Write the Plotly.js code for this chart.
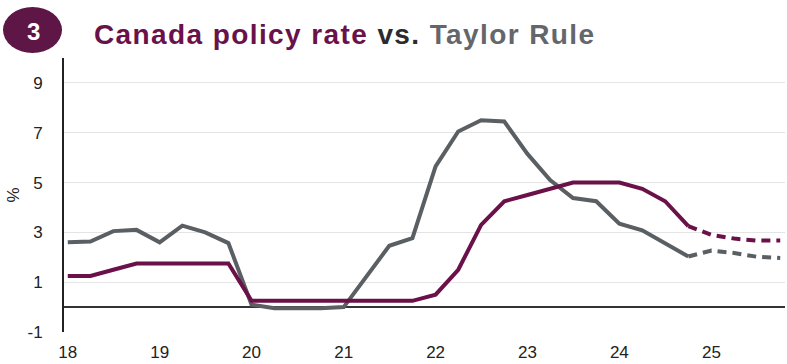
<!DOCTYPE html>
<html>
<head>
<meta charset="utf-8">
<script src="https://cdn.plot.ly/plotly-3.0.1.min.js"></script>
<style>
html,body{margin:0;padding:0;background:#fff;}
#chart{width:787px;height:364px;}
#chart .gtitle{letter-spacing:1.4px;}
</style>
</head>
<body>
<div id="chart"></div>
<script>
// Quarterly dates, actual history 2018Q1–2024Q4
const actualDates = [
  '2018-01-01','2018-04-01','2018-07-01','2018-10-01',
  '2019-01-01','2019-04-01','2019-07-01','2019-10-01',
  '2020-01-01','2020-04-01','2020-07-01','2020-10-01',
  '2021-01-01','2021-04-01','2021-07-01','2021-10-01',
  '2022-01-01','2022-04-01','2022-07-01','2022-10-01',
  '2023-01-01','2023-04-01','2023-07-01','2023-10-01',
  '2024-01-01','2024-04-01','2024-07-01','2024-10-01'
];
const forecastDates = ['2024-10-01','2025-01-01','2025-04-01','2025-07-01','2025-10-01'];

const policyRate = [1.25,1.25,1.5,1.75, 1.75,1.75,1.75,1.75, 0.25,0.25,0.25,0.25, 0.25,0.25,0.25,0.25,
                    0.5,1.5,3.3,4.25, 4.5,4.75,5.0,5.0, 5.0,4.75,4.25,3.25];
const policyForecast = [3.25,2.9,2.75,2.67,2.67];

const taylorRule = [2.6,2.63,3.05,3.1, 2.6,3.27,3.0,2.57, 0.1,-0.05,-0.05,-0.05, 0.0,1.23,2.46,2.77,
                    5.65,7.05,7.5,7.45, 6.15,5.1,4.38,4.25, 3.35,3.08,2.57,2.03];
const taylorForecast = [2.03,2.27,2.17,2.02,1.97];

const yearTicks = ['2018-01-01','2019-01-01','2020-01-01','2021-01-01','2022-01-01','2023-01-01','2024-01-01','2025-01-01'];
const yearLabels = ['18','19','20','21','22','23','24','25'];
const yTicks = [-1,1,3,5,7,9];
const yLabels = ['-1','1','3','5','7','9'];

const PURPLE = '#6a1149';
const GREY = '#5a5f63';

const traces = [
  {x: actualDates, y: taylorRule, mode:'lines', line:{color:GREY, width:4}, hoverinfo:'skip'},
  {x: forecastDates, y: taylorForecast, mode:'lines', line:{color:GREY, width:4, dash:'9px,6px'}, hoverinfo:'skip'},
  {x: actualDates, y: policyRate, mode:'lines', line:{color:PURPLE, width:4}, hoverinfo:'skip'},
  {x: forecastDates, y: policyForecast, mode:'lines', line:{color:PURPLE, width:4, dash:'9px,6px'}, hoverinfo:'skip'}
];

const FONT = 'Liberation Sans, Arial, sans-serif';

const layout = {
  width: 787, height: 364,
  margin: {l:64, r:2, t:58, b:32},
  paper_bgcolor:'#fff', plot_bgcolor:'#fff',
  showlegend:false,
  font:{family:FONT, color:'#222', size:17},
  title:{
    text: "<b><span style='color:#6a1149'>Canada policy rate</span> <span style='color:#2b2b2b'>vs.</span> <span style='color:#63666a'>Taylor Rule</span></b>",
    font:{family:FONT, size:28},
    xref:'container', x: 94/787, xanchor:'left',
    yref:'container', y: 1-34/364, yanchor:'middle'
  },
  xaxis:{
    type:'date',
    range:['2017-12-17','2025-10-20'],
    tickvals: yearTicks, ticktext: yearLabels,
    showgrid:false, zeroline:false, showline:false, ticks:'',
    ticklabelstandoff:8,
    tickfont:{size:17, color:'#222'}
  },
  yaxis:{
    range:[-1,10],
    tickvals: yTicks, ticktext: yLabels,
    showgrid:true, gridcolor:'#e4e4e4', gridwidth:1,
    zeroline:true, zerolinecolor:'#333', zerolinewidth:2,
    showline:true, linecolor:'#222', linewidth:2,
    ticks:'', ticklabelstandoff:16,
    tickfont:{size:17, color:'#222'},
    title:{text:'%', font:{size:17, color:'#222'}, standoff:4}
  },
  shapes:[
    {type:'circle', xref:'paper', yref:'paper', xsizemode:'pixel', ysizemode:'pixel',
     xanchor:0, yanchor:1, x0:-61, x1:-2, y0:51, y1:5,
     fillcolor:'#5e1646', line:{width:0}}
  ],
  annotations:[
    {text:'<b>3</b>', xref:'paper', yref:'paper', x:(33-64)/721, y:(332-31)/274,
     xanchor:'center', yanchor:'middle', showarrow:false,
     font:{family:FONT, size:24, color:'#fff'}}
  ]
};

Plotly.newPlot('chart', traces, layout, {displayModeBar:false, staticPlot:true});
</script>
</body>
</html>
